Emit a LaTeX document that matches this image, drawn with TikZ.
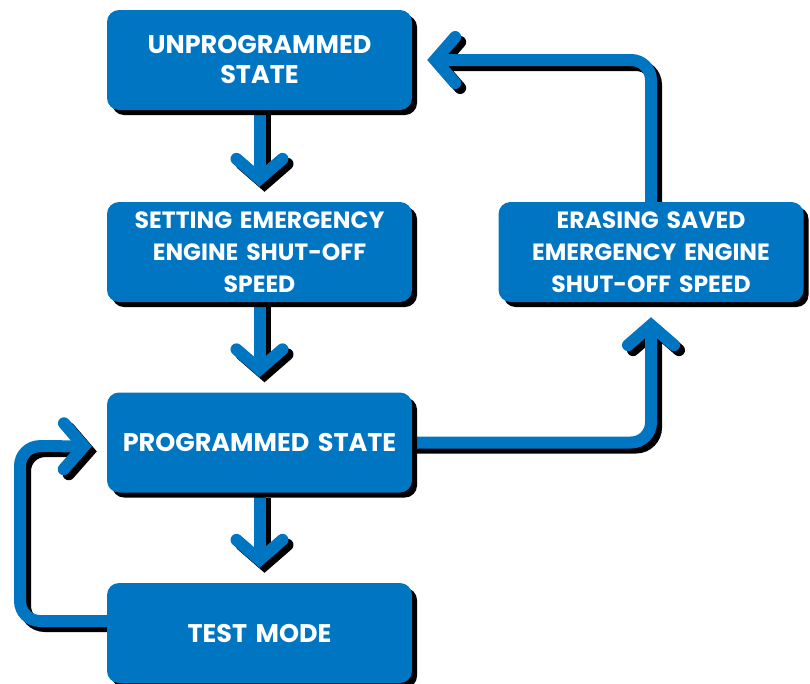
\documentclass[tikz,border=0pt]{standalone}
\usepackage{fontspec}
\setmainfont{Poppins}
\usetikzlibrary{arrows.meta,shadows,calc}
\definecolor{boxblue}{HTML}{0075C2}
\pgfdeclarelayer{background}
\pgfsetlayers{background,main}
\tikzset{
  box/.style={rectangle, rounded corners=12pt, fill=boxblue, text=white,
    minimum width=305pt, minimum height=100pt, inner sep=0pt, align=center,
    text width=300pt,
    drop shadow={shadow xshift=5pt, shadow yshift=-5pt, fill=black, opacity=1}},
  big/.style={font=\bfseries\fontsize{25.5}{30}\selectfont},
  small/.style={font=\bfseries\fontsize{23.5}{32}\selectfont},
  tipbarb/.tip={Straight Barb[length=20pt, width=46pt, line cap=round, line join=miter]},
  conn/.style={line width=12pt, draw=boxblue, -tipbarb, rounded corners=20pt, shorten >=15pt},
  connshadow/.style={conn, draw=black, transform canvas={xshift=5pt,yshift=-5pt}},
}
\begin{document}
\begin{tikzpicture}[x=1pt,y=-1pt]
\useasboundingbox (0,0) rectangle (810,683);
\node[box,big]   (u) at (259.5,60)  {UNPROGRAMMED\\STATE};
\node[box,small] (s) at (259.5,252) {SETTING EMERGENCY\\ENGINE SHUT-OFF\\SPEED};
\node[box,big]   (p) at (259.5,442.5) {PROGRAMMED STATE};
\node[box,big]   (t) at (259.5,633) {TEST MODE};
\node[box,small] (e) at (651,252)   {ERASING SAVED\\EMERGENCY ENGINE\\SHUT-OFF SPEED};
\coordinate (tw) at ($(t.west)+(0,-12)$);
\coordinate (pw) at ($(p.west)+(0,4)$);
\coordinate (l1) at (20,621);
\coordinate (l2) at (20,446);
\begin{pgfonlayer}{background}
\foreach \st in {connshadow,conn}{
  \draw[\st] (u.south) -- (s.north);
  \draw[\st] (s.south) -- (p.north);
  \draw[\st] (p.south) -- (t.north);
  \draw[\st] (p.east) -| (e.south);
  \draw[\st] (e.north) |- (u.east);
  \draw[\st] (tw) -- (l1) -- (l2) -- (pw);
}
\end{pgfonlayer}
\end{tikzpicture}
\end{document}
